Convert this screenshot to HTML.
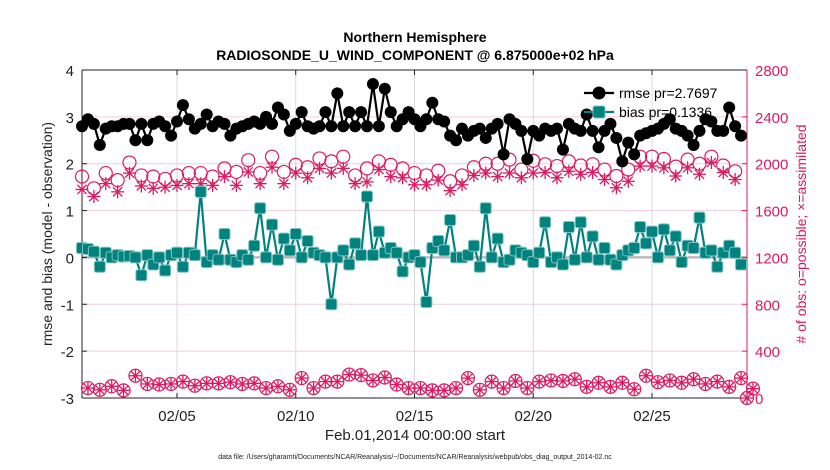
<!DOCTYPE html>
<html><head><meta charset="utf-8"><style>
body{margin:0;background:#fff;}
svg{display:block;font-family:"Liberation Sans",sans-serif;}
</style></head><body>
<svg id="chart" width="830" height="470" viewBox="0 0 830 470">
<text x="415" y="42" text-anchor="middle" font-size="14" font-weight="bold">Northern Hemisphere</text>
<text x="415" y="60" text-anchor="middle" font-size="14" font-weight="bold">RADIOSONDE_U_WIND_COMPONENT @ 6.875000e+02 hPa</text>
<g id="grid"></g>
<g id="axes"></g>
<g id="series"></g>
<text x="415" y="440" text-anchor="middle" font-size="15" fill="#222">Feb.01,2014 00:00:00 start</text>
<text transform="translate(52,234) rotate(-90)" text-anchor="middle" font-size="14" fill="#222">rmse and bias (model - observation)</text>
<text transform="translate(806,234) rotate(-90)" text-anchor="middle" font-size="14" fill="#d81860"># of obs: o=possible; ×=assimilated</text>
<text x="415" y="459" text-anchor="middle" font-size="7" fill="#222">data file: /Users/gharamti/Documents/NCAR/Reanalysis/~/Documents/NCAR/Reanalysis/webpub/obs_diag_output_2014-02.nc</text>
<g id="legend"></g>
</svg>
<script>
const rmse=[2.8,2.95,2.85,2.4,2.75,2.8,2.8,2.85,2.85,2.5,2.85,2.5,2.85,2.9,2.8,2.6,2.9,3.25,2.95,2.75,2.85,3.05,2.8,2.9,2.85,2.6,2.75,2.8,2.85,2.9,2.85,3.0,2.85,3.2,3.05,2.7,2.85,3.1,2.8,2.75,2.8,3.1,2.8,3.5,2.8,3.1,2.8,3.1,2.8,3.7,2.8,3.6,3.1,2.8,2.95,3.1,2.95,2.8,2.95,3.3,2.95,2.9,2.6,2.5,2.75,2.6,2.7,2.75,2.55,2.75,2.85,2.2,2.95,2.85,2.7,2.1,2.7,2.6,2.75,2.7,2.75,2.3,2.85,2.75,2.7,3.05,2.7,2.35,2.7,2.85,2.55,2.05,2.45,2.2,2.6,2.65,2.7,2.75,2.85,2.95,2.75,2.7,2.6,2.4,2.7,2.95,2.9,2.7,2.7,3.2,2.8,2.6];
const bias=[0.2,0.18,0.12,-0.2,0.1,0.0,0.05,0.02,0.03,0.0,-0.38,0.05,-0.15,0.0,-0.28,0.05,0.1,-0.2,0.1,0.05,1.4,-0.1,0.05,-0.05,0.5,-0.05,-0.1,0.05,-0.05,0.25,1.05,0.0,0.7,-0.05,0.4,0.15,0.5,0.0,0.35,0.1,0.05,0.0,-1.0,0.0,0.15,-0.15,0.3,0.05,1.3,0.05,0.55,0.1,0.2,0.1,-0.3,0.0,0.05,-0.1,-0.95,0.2,0.35,0.15,0.8,0.0,0.0,0.05,0.25,-0.2,1.05,0.0,0.4,-0.1,-0.05,0.15,0.1,0.05,-0.1,0.1,0.75,-0.1,0.0,-0.15,0.65,-0.05,0.75,0.0,0.45,-0.05,0.2,-0.05,-0.15,0.05,0.15,0.2,0.65,0.3,0.55,0.0,0.6,0.15,0.45,-0.1,0.25,0.2,0.85,0.1,0.15,-0.2,0.1,0.25,0.1,-0.15];
const upperPossible=[1890,1790,1920,1860,2010,1900,1890,1870,1900,1920,1920,1890,1960,1930,2030,1920,2060,1930,1990,1970,2045,2020,2060,1900,1960,2020,1990,1960,1920,1900,1940,1850,1900,1970,2000,2000,2035,1950,2025,1995,1980,2020,1985,1995,1950,1895,1950,2060,2060,2040,1975,2035,2000,2060,1985,1935];
const upperAssim=[1780,1720,1830,1760,1920,1810,1790,1800,1815,1830,1830,1815,1890,1815,1930,1830,1970,1830,1920,1880,1960,1920,1960,1830,1845,1950,1890,1880,1820,1820,1860,1770,1820,1900,1920,1890,1920,1880,1920,1925,1880,1935,1910,1925,1865,1795,1850,1980,1980,1965,1895,1965,1910,2010,1925,1865];
const lowerCount=[85,70,100,65,190,120,115,120,140,105,125,125,135,120,125,85,100,70,170,85,140,140,200,195,150,175,115,85,85,65,65,85,170,70,140,85,145,85,140,150,145,160,95,130,95,130,75,190,135,150,130,160,120,140,95,170,80];
const finalCount=[0];
const leftTicks=[-3,-2,-1,0,1,2,3,4];
const rightTicks=[0,400,800,1200,1600,2000,2400,2800];
const xTickDays=[4,9,14,19,24];
const xTickLabels=["02/05","02/10","02/15","02/20","02/25"];

const X0=82,X1=747,Y0=70,Y1=398,DAYS=28;
const xS=d=>X0+(X1-X0)*d/DAYS;
const yL=v=>Y1-(v+3)/7*(Y1-Y0);
const yR=v=>Y1-v/2800*(Y1-Y0);
const NS='http://www.w3.org/2000/svg';
function mk(tag,attrs,parent){const e=document.createElementNS(NS,tag);for(const k in attrs)e.setAttribute(k,attrs[k]);parent.appendChild(e);return e;}
const grid=document.getElementById('grid'),axes=document.getElementById('axes'),ser=document.getElementById('series'),leg=document.getElementById('legend');
const PINK='#dc1a63',TEAL='#00827f';

mk('rect',{x:X0,y:Y0,width:X1-X0,height:Y1-Y0,fill:'#fff'},grid);
leftTicks.forEach(t=>{
  const l=mk('line',{x1:X0,x2:X1,y1:yL(t),y2:yL(t),stroke:'#f0cfdc','stroke-width':1},grid);
  
  
  const tx=mk('text',{x:X0-8,y:yL(t)+6,'text-anchor':'end','font-size':15,fill:'#222'},axes);
  tx.textContent=t;
  
  
});
rightTicks.forEach(t=>{
  const tx=mk('text',{x:X1+8,y:yR(t)+6,'font-size':15,fill:PINK},axes);
  tx.textContent=t;
  
  
  mk('line',{x1:X1-5,x2:X1,y1:yR(t),y2:yR(t),stroke:PINK},axes);
});
xTickDays.forEach((d,i)=>{
  const l=mk('line',{x1:xS(d),x2:xS(d),y1:Y0,y2:Y1,stroke:'#d8d8d8','stroke-width':1},grid);
  
  
  mk('line',{x1:xS(d),x2:xS(d),y1:Y1,y2:Y1-5,stroke:'#222'},axes);
  mk('line',{x1:xS(d),x2:xS(d),y1:Y0,y2:Y0+5,stroke:'#222'},axes);
  const tx=mk('text',{x:xS(d),y:Y1+23,'text-anchor':'middle','font-size':15,fill:'#222'},axes);
  tx.textContent=xTickLabels[i];
  
  
});
const zl=mk('line',{x1:X0,x2:X1,y1:yL(0),y2:yL(0),stroke:'#bbb','stroke-width':2.5},grid);


mk('line',{x1:X0,x2:X1,y1:Y0,y2:Y0,stroke:'#222'},axes);
mk('line',{x1:X0,x2:X1,y1:Y1,y2:Y1,stroke:'#222'},axes);
mk('line',{x1:X0,x2:X0,y1:Y0,y2:Y1,stroke:'#222'},axes);
mk('line',{x1:X1,x2:X1,y1:Y0,y2:Y1,stroke:PINK},axes);
leftTicks.forEach(t=>mk('line',{x1:X0,x2:X0+5,y1:yL(t),y2:yL(t),stroke:'#222'},axes));

function star(cx,cy,r,parent){
  const g=mk('g',{stroke:PINK,'stroke-width':1.3},parent);
  for(let k=0;k<4;k++){const a=k*Math.PI/4;mk('line',{x1:cx-r*Math.cos(a),y1:cy-r*Math.sin(a),x2:cx+r*Math.cos(a),y2:cy+r*Math.sin(a)},g);}
  return g;
}
const obsG=mk('g',{},ser);


upperPossible.forEach((v,k)=>{
  const c=mk('circle',{cx:xS(k*0.5),cy:yR(v),r:6.5,fill:'none',stroke:PINK,'stroke-width':1.2},obsG);
  
  
});
upperAssim.forEach((v,k)=>{
  const s=star(xS(k*0.5),yR(v),6.5,obsG);
  
  
});
lowerCount.concat(finalCount).forEach((v,k)=>{
  const d=k===lowerCount.length?DAYS:0.25+k*0.5;
  const c=mk('circle',{cx:xS(d),cy:yR(v),r:6.5,fill:'none',stroke:PINK,'stroke-width':1.2},obsG);
  
  
  const s=star(xS(d),yR(v),6,obsG);
  
  
});
const bp=bias.map((v,i)=>xS(i*0.25)+','+yL(v)).join(' ');
const bl=mk('polyline',{points:bp,fill:'none',stroke:TEAL,'stroke-width':2.2},ser);


bias.forEach((v,i)=>{
  const r=mk('rect',{x:xS(i*0.25)-5.5,y:yL(v)-5.5,width:11,height:11,rx:2,fill:TEAL,stroke:'#7fc1bf','stroke-width':1},ser);
  
  
});
const rp=rmse.map((v,i)=>xS(i*0.25)+','+yL(v)).join(' ');
const rl=mk('polyline',{points:rp,fill:'none',stroke:'#000','stroke-width':2.2},ser);


rmse.forEach((v,i)=>{
  const c=mk('circle',{cx:xS(i*0.25),cy:yL(v),r:6,fill:'#000'},ser);
  
  
});
mk('line',{x1:584,x2:614,y1:93,y2:93,stroke:'#000','stroke-width':2.2},leg);
mk('circle',{cx:599,cy:93,r:6.5,fill:'#000'},leg);
const t1=mk('text',{x:619,y:98,'font-size':14,fill:'#000'},leg);
t1.textContent='rmse pr=2.7697';


mk('line',{x1:584,x2:614,y1:112,y2:112,stroke:TEAL,'stroke-width':2.2},leg);
mk('rect',{x:593,y:106,width:12,height:12,rx:2,fill:TEAL,stroke:'#7fc1bf'},leg);
const t2=mk('text',{x:619,y:117,'font-size':14,fill:'#000'},leg);
t2.textContent='bias pr=0.1336';


</script>
</body></html>
